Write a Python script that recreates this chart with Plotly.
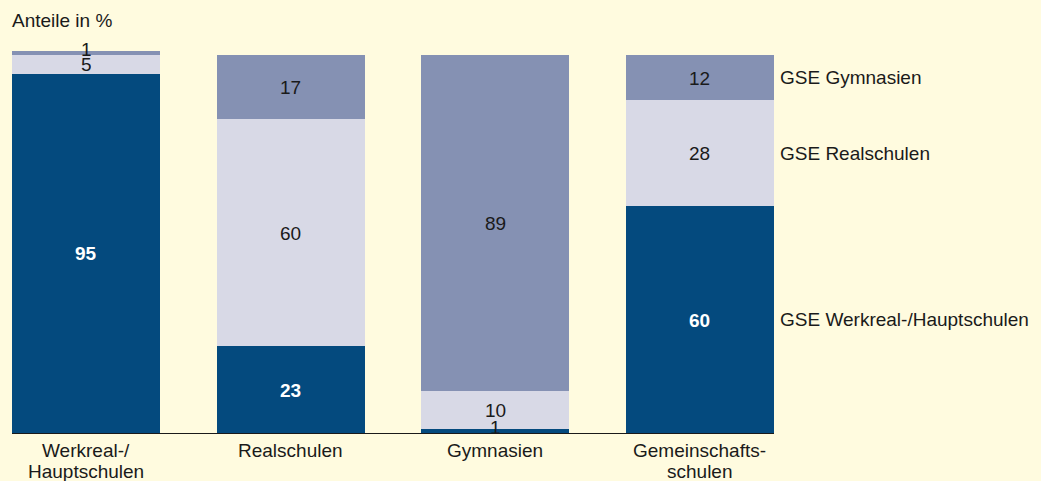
import plotly.graph_objects as go

categories = ["Werkreal-/<br>Hauptschulen", "Realschulen", "Gymnasien", "Gemeinschafts-<br>schulen"]
series_names = ["GSE Werkreal-/Hauptschulen", "GSE Realschulen", "GSE Gymnasien"]
werkreal = [95, 23, 1, 60]
realschulen = [5, 60, 10, 28]
gymnasien = [1, 17, 89, 12]
colors = ["#044a7e", "#d8d9e6", "#8591b3"]
text_colors = ["white", "#1a1a1a", "#1a1a1a"]

series = [werkreal, realschulen, gymnasien]
FONT = "Liberation Sans, Arial, sans-serif"
FS = 19
W, H = 1041, 481
ML, MR, MT, MB = 12, 267, 50, 48
plot_h = H - MT - MB
plot_w = W - ML - MR

fig = go.Figure()
for name, vals, col in zip(series_names, series, colors):
    fig.add_trace(go.Bar(x=list(range(len(categories))), y=vals, name=name,
                         marker=dict(color=col, line=dict(width=0)),
                         hoverinfo="skip"))

annotations = []
for i in range(len(categories)):
    base = 0
    for k, vals in enumerate(series):
        v = vals[i]
        mid = base + v / 2
        small = v < 3
        label = f"<b>{v}</b>" if (k == 0 and not small) else str(v)
        annotations.append(dict(
            x=i, y=mid, xref="x", yref="y", text=label, showarrow=False,
            yshift=4 if small else 0, height=16, valign="middle",
            font=dict(family=FONT, size=FS, color="#1a1a1a" if small else text_colors[k])))
        base += v

# category labels below the axis, one annotation per line (tight line spacing)
for i, cat in enumerate(categories):
    for j, line in enumerate(cat.split("<br>")):
        annotations.append(dict(
            x=i, y=0, xref="x", yref="paper", text=line, showarrow=False,
            xanchor="center", yanchor="middle", yshift=-(17 + 21 * j),
            font=dict(family=FONT, size=FS, color="#1a1a1a")))

# right-side series labels aligned with last bar's segments
base = 0
last = len(categories) - 1
for name, vals in zip(series_names, series):
    v = vals[last]
    annotations.append(dict(
        x=(778 - ML) / plot_w, y=base + v / 2, xref="paper", yref="y", text=name,
        showarrow=False, xanchor="left", yanchor="middle",
        font=dict(family=FONT, size=FS, color="#1a1a1a")))
    base += v

annotations.append(dict(x=0, y=1 + (MT - 20) / plot_h, xref="paper", yref="paper",
                        text="Anteile in %",
                        showarrow=False, xanchor="left", yanchor="middle", xshift=-2,
                        font=dict(family=FONT, size=FS, color="#1a1a1a")))

fig.update_layout(
    barmode="stack",
    bargap=0.277,
    width=W, height=H,
    margin=dict(l=ML, r=MR, t=MT, b=MB, autoexpand=False),
    paper_bgcolor="#fffbdf",
    plot_bgcolor="#fffbdf",
    showlegend=False,
    annotations=annotations,
    font=dict(family=FONT, size=FS, color="#1a1a1a"),
    xaxis=dict(range=[-0.3616, 3.3616], tickmode="array", automargin=False,
               tickvals=list(range(len(categories))), showticklabels=False,
               showline=True, linecolor="#1a1a1a", linewidth=1.2,
               showgrid=False, zeroline=False, ticks=""),
    yaxis=dict(range=[0, 101.3], visible=False, showgrid=False, zeroline=False,
               automargin=False),
)

fig.write_html("out.html", config={"displayModeBar": False},
               post_script="document.body.style.margin='0';document.body.style.background='#fffbdf';")
